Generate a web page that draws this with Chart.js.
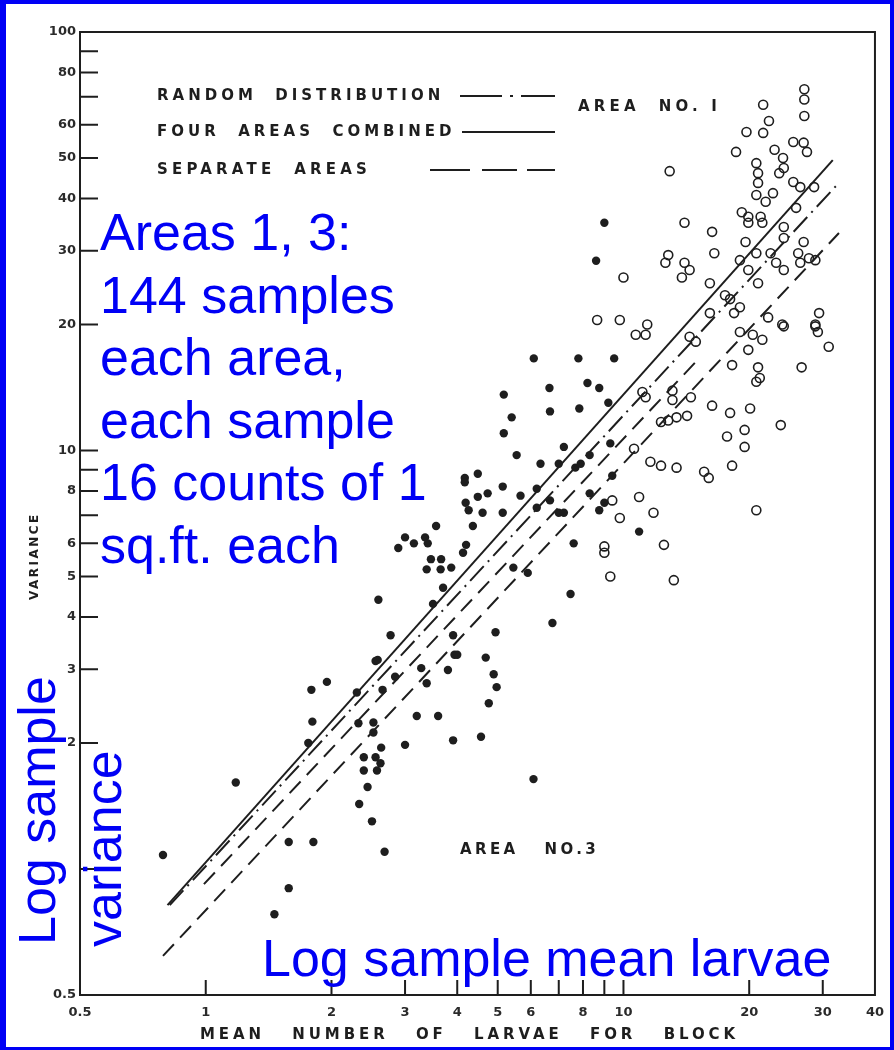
<!DOCTYPE html>
<html>
<head>
<meta charset="utf-8">
<script src="https://cdn.jsdelivr.net/npm/chart.js@4.4.1/dist/chart.umd.min.js"></script>
<style>
  html, body { margin: 0; padding: 0; background: #fff; }
  canvas { display: block; }
</style>
</head>
<body>
<canvas id="chart" width="894" height="1050"></canvas>
<script>
// axis ticks
var xTickValues = [0.5, 1, 2, 3, 4, 5, 6, 7, 8, 9, 10, 20, 30, 40]
var xTickLabels = ['0.5', '1', '2', '3', '4', '5', '6', '', '8', '', '10', '20', '30', '40']
var yTickValues = [0.5, 1, 2, 3, 4, 5, 6, 7, 8, 9, 10, 20, 30, 40, 50, 60, 70, 80, 90, 100]
var yTickLabels = ['0.5', '', '2', '3', '4', '5', '6', '', '8', '', '10', '20', '30', '40', '50', '60', '', '80', '', '100']

// area no. 1 (open circles): mean larvae per block, variance
var area1Mean = [21.6, 27.1, 27.1, 27.1, 22.3, 19.7, 21.6, 18.6, 23.0, 24.1,
  25.5, 27.0, 27.5, 20.8, 12.9, 21.0, 23.6, 24.2, 21.0, 20.8,
  22.8, 21.9, 25.5, 26.5, 28.6, 19.2, 19.9, 21.3, 19.9, 21.5,
  25.9, 14.0, 16.3, 24.2, 24.2, 19.6, 20.8, 22.5, 27.0, 26.2,
  27.8, 28.8, 19.0, 19.9, 23.2, 24.2, 26.5, 12.8, 12.6, 14.0,
  14.4, 13.8, 10.0, 16.5, 16.1, 17.5, 18.0, 19.0, 18.4, 16.1,
  21.0, 22.2, 24.0, 29.4, 28.8, 8.65, 9.8, 11.4, 10.7, 11.3,
  14.4, 14.9, 19.0, 20.4, 21.5, 19.9, 24.2, 28.8, 29.2, 31.0,
  18.2, 21.0, 21.2, 20.8, 26.7, 14.5, 16.3, 18.0, 20.1, 11.1,
  11.3, 13.1, 13.1, 14.2, 13.4, 12.8, 12.3, 23.8, 17.7, 19.5,
  19.5, 10.6, 11.6, 12.3, 13.4, 15.6, 16.0, 18.2, 9.4, 10.9,
  9.8, 11.8, 12.5, 9.0, 9.0, 9.3, 13.2, 20.8]
var area1Variance = [67, 73, 69, 63, 61.3, 57.7, 57.4, 51.7, 52.3, 50,
  54.6, 54.4, 51.7, 48.6, 46.5, 46.0, 46.0, 47.3, 43.6, 40.8,
  41.2, 39.3, 43.8, 42.6, 42.6, 37.1, 36.2, 36.2, 35.0, 35.0,
  38.0, 35.0, 33.3, 34.2, 32.2, 31.5, 29.6, 29.6, 31.5, 29.6,
  28.8, 28.5, 28.5, 27.0, 28.1, 27.0, 28.1, 29.3, 28.1, 28.1,
  27.0, 25.9, 25.9, 29.6, 25.1, 23.5, 23.0, 22.0, 21.3, 21.3,
  25.1, 20.8, 20.0, 21.3, 20.0, 20.5, 20.5, 20.0, 18.9, 18.9,
  18.7, 18.2, 19.2, 18.9, 18.4, 17.4, 19.8, 19.8, 19.2, 17.7,
  16.0, 15.8, 14.9, 14.6, 15.8, 13.4, 12.8, 12.3, 12.6, 13.8,
  13.4, 13.9, 13.2, 12.1, 12.0, 11.8, 11.7, 11.5, 10.8, 11.2,
  10.2, 10.1, 9.4, 9.2, 9.1, 8.9, 8.6, 9.2, 7.6, 7.74,
  6.9, 7.1, 5.95, 5.9, 5.7, 5.0, 4.9, 7.2]

// area no. 3 (filled dots)
var area3Mean = [0.79, 1.18, 1.58, 1.58, 1.46, 1.79, 1.95, 1.80, 1.76, 1.81,
  2.55, 3.2, 3.0, 2.32, 2.52, 2.52, 2.63, 2.39, 2.55, 2.62,
  2.39, 2.57, 2.44, 2.33, 2.5, 2.68, 2.30, 2.84, 2.65, 3.56,
  4.36, 3.0, 3.15, 2.89, 3.35, 3.4, 3.46, 3.66, 3.38, 3.65,
  3.87, 4.13, 4.2, 2.59, 2.77, 2.58, 3.28, 3.38, 3.8, 3.91,
  3.94, 3.7, 3.5, 3.6, 3.91, 6.1, 7.8, 6.65, 8.2, 5.17,
  6.67, 7.84, 5.4, 5.17, 5.55, 6.33, 7.0, 7.2, 8.3, 7.67,
  4.17, 4.48, 4.17, 5.14, 4.73, 4.48, 4.19, 4.26, 4.6, 5.14,
  5.67, 6.2, 6.67, 6.2, 7.0, 7.2, 8.3, 7.6, 9.0, 8.6,
  9.5, 8.75, 9.2, 9.3, 7.9, 9.4, 8.75, 9.0, 10.9, 7.47,
  6.76, 5.9, 5.45, 4.94, 4.0, 4.68, 4.89, 4.97, 4.76, 4.56,
  6.09]
var area3Variance = [1.08, 1.61, 1.16, 0.90, 0.78, 2.68, 2.80, 2.25, 2.0, 1.16,
  3.14, 2.32, 1.98, 2.23, 2.24, 2.12, 1.95, 1.85, 1.85, 1.79,
  1.72, 1.72, 1.57, 1.43, 1.30, 1.10, 2.64, 2.88, 2.68, 6.6,
  6.6, 6.2, 6.0, 5.85, 6.2, 6.0, 5.5, 5.5, 5.2, 5.2,
  5.25, 5.7, 5.95, 4.4, 3.62, 3.16, 3.02, 2.78, 2.99, 3.62,
  3.25, 4.7, 4.3, 2.32, 2.03, 16.6, 16.6, 14.1, 14.5, 13.6,
  12.4, 12.6, 12.0, 11.0, 9.75, 9.3, 9.3, 10.2, 9.75, 9.1,
  8.6, 8.8, 8.4, 8.2, 7.9, 7.75, 7.5, 7.2, 7.1, 7.1,
  7.8, 8.1, 7.6, 7.3, 7.1, 7.1, 7.9, 6.0, 35.0, 28.4,
  16.6, 14.1, 13.0, 10.4, 9.3, 8.7, 7.2, 7.5, 6.4, 4.54,
  3.87, 5.1, 5.25, 3.68, 3.25, 3.2, 2.92, 2.72, 2.49, 2.07,
  1.64]

// fitted lines, end points
var randomLineMean = [0.82, 32.3]
var randomLineVariance = [0.82, 42.9]
var combinedLineMean = [0.81, 31.7]
var combinedLineVariance = [0.82, 49.4]
var separateLineAMean = [0.79, 32.8]
var separateLineAVariance = [0.62, 33.1]
var separateLineBMean = [0.99, 15.0]
var separateLineBVariance = [0.92, 16.4]

var ink = '#1e1e1e'
var blue = 'rgb(0,0,245)'

function pts(xs, ys) {
    return xs.map(function(x, i) { return {x: x, y: ys[i]} })
}

function lineSet(xs, ys, dash) {
    return {
        data: pts(xs, ys), showLine: true, pointRadius: 0,
        borderColor: ink, borderWidth: 2, borderDash: dash, fill: false
    }
}

function spaced(ctx, text, x, y, gap) {
    ctx.letterSpacing = gap + 'px'
    ctx.fillText(text, x, y)
    ctx.letterSpacing = '0px'
}

var decor = {
    id: 'decor',
    beforeDraw: function(chart) {
        var ctx = chart.ctx
        ctx.save()
        ctx.fillStyle = '#ffffff'
        ctx.fillRect(0, 0, chart.width, chart.height)
        ctx.restore()
    },
    afterDraw: function(chart) {
        var ctx = chart.ctx, a = chart.chartArea
        var xs = chart.scales.x, ys = chart.scales.y
        ctx.save()
        // frame
        ctx.strokeStyle = ink
        ctx.lineWidth = 2
        ctx.strokeRect(a.left, a.top, a.right - a.left, a.bottom - a.top)
        // inner tick marks
        ctx.beginPath()
        yTickValues.forEach(function(v) {
            if (v == 0.5 || v == 100) return
            var p = ys.getPixelForValue(v)
            ctx.moveTo(a.left, p); ctx.lineTo(a.left + 18, p)
        })
        xTickValues.forEach(function(v) {
            if (v == 0.5 || v == 40) return
            var p = xs.getPixelForValue(v)
            ctx.moveTo(p, a.bottom); ctx.lineTo(p, a.bottom - 15)
        })
        ctx.stroke()

        // legend
        ctx.fillStyle = ink
        ctx.font = 'bold 15px "DejaVu Sans"'
        ctx.textBaseline = 'middle'
        spaced(ctx, 'RANDOM  DISTRIBUTION', 157, 96, 4)
        spaced(ctx, 'FOUR  AREAS  COMBINED', 157, 132, 4)
        spaced(ctx, 'SEPARATE  AREAS', 157, 170, 4.2)
        spaced(ctx, 'AREA  NO. I', 578, 107, 4.2)
        spaced(ctx, 'AREA   NO.3', 460, 850, 3.4)
        ctx.lineWidth = 2
        ctx.beginPath()
        ctx.setLineDash([42, 8, 3, 8, 42, 0]); ctx.moveTo(460, 96); ctx.lineTo(555, 96)
        ctx.stroke()
        ctx.beginPath()
        ctx.setLineDash([]); ctx.moveTo(462, 132); ctx.lineTo(555, 132)
        ctx.stroke()
        ctx.beginPath()
        ctx.setLineDash([40, 12, 35, 10]); ctx.moveTo(430, 170); ctx.lineTo(555, 170)
        ctx.stroke()
        ctx.setLineDash([])

        // axis titles
        ctx.font = 'bold 15px "DejaVu Sans"'
        spaced(ctx, 'MEAN   NUMBER   OF   LARVAE   FOR   BLOCK', 200, 1035, 3.9)
        ctx.save()
        ctx.translate(35, 600)
        ctx.rotate(-Math.PI / 2)
        ctx.font = 'bold 12px "DejaVu Sans"'
        spaced(ctx, 'VARIANCE', 0, 0, 2.5)
        ctx.restore()

        // blue overlay notes
        ctx.fillStyle = blue
        ctx.font = '52px "Liberation Sans", Arial, sans-serif'
        ctx.textBaseline = 'alphabetic'
        var notes = ['Areas 1, 3:', '144 samples', 'each area,', 'each sample', '16 counts of 1', 'sq.ft. each']
        notes.forEach(function(t, i) { ctx.fillText(t, 100, 250 + i * 62.6) })
        ctx.fillText('Log sample mean larvae', 262, 976)
        ctx.save()
        ctx.translate(55, 945); ctx.rotate(-Math.PI / 2)
        ctx.fillText('Log sample', 0, 0)
        ctx.restore()
        ctx.save()
        ctx.translate(121, 947); ctx.rotate(-Math.PI / 2)
        ctx.fillText('variance', 0, 0)
        ctx.restore()

        // blue border
        ctx.fillRect(0, 0, chart.width, 4)
        ctx.fillRect(0, 0, 6, chart.height)
        ctx.fillRect(chart.width - 4, 0, 4, chart.height)
        ctx.fillRect(0, chart.height - 3, chart.width, 3)
        ctx.restore()
    }
}

var scatterConfig = {
    type: 'scatter',
    data: {
        datasets: [
            lineSet(combinedLineMean, combinedLineVariance, []),
            lineSet(randomLineMean, randomLineVariance, [20, 6, 2, 6]),
            lineSet(separateLineAMean, separateLineAVariance, [16, 9]),
            lineSet(separateLineBMean, separateLineBVariance, [16, 9]),
            {
                label: 'Area No. 1',
                data: pts(area1Mean, area1Variance),
                pointRadius: 4.5, pointBorderWidth: 1.6,
                pointBackgroundColor: 'rgba(0,0,0,0)', pointBorderColor: ink
            },
            {
                label: 'Area No. 3',
                data: pts(area3Mean, area3Variance),
                pointRadius: 4.2, pointBorderWidth: 0,
                pointBackgroundColor: ink, pointBorderColor: ink
            }
        ]
    },
    options: {
        responsive: false,
        animation: false,
        devicePixelRatio: 1,
        layout: { padding: { top: 32, right: 14, left: 0, bottom: 0 } },
        plugins: { legend: { display: false }, tooltip: { enabled: false } },
        scales: {
            x: {
                type: 'logarithmic', min: 0.5, max: 40,
                afterBuildTicks: function(s) { s.ticks = xTickValues.map(function(v) { return {value: v} }) },
                afterFit: function(s) { s.height = 55 },
                grid: { display: false, drawTicks: false },
                border: { display: false },
                ticks: {
                    autoSkip: false, maxRotation: 0, padding: 10, color: '#2a2a2a',
                    font: { family: 'DejaVu Sans', weight: 'bold', size: 13 },
                    callback: function(v) { var i = xTickValues.indexOf(v); return i < 0 ? '' : xTickLabels[i] }
                }
            },
            y: {
                type: 'logarithmic', min: 0.5, max: 100,
                afterBuildTicks: function(s) { s.ticks = yTickValues.map(function(v) { return {value: v} }) },
                afterFit: function(s) { s.width = 80 },
                grid: { display: false, drawTicks: false },
                border: { display: false },
                ticks: {
                    autoSkip: false, padding: 4, color: '#2a2a2a',
                    font: { family: 'DejaVu Sans', weight: 'bold', size: 13 },
                    callback: function(v) { var i = yTickValues.indexOf(v); return i < 0 ? '' : yTickLabels[i] }
                }
            }
        }
    },
    plugins: [decor]
}

var ctx = document.getElementById('chart').getContext('2d')
var varianceChart = new Chart(ctx, scatterConfig)
</script>
</body>
</html>
